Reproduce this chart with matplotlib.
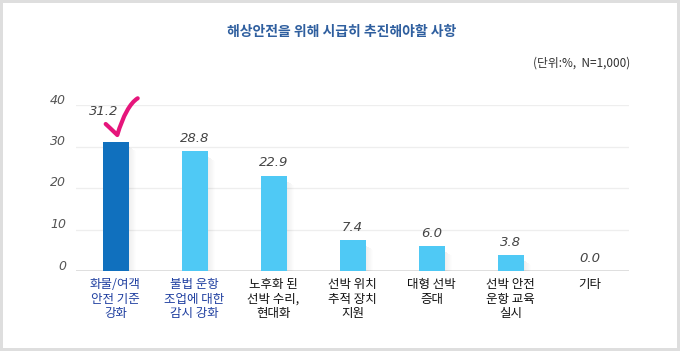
import matplotlib
matplotlib.use("Agg")
import matplotlib.pyplot as plt
from matplotlib.patches import Rectangle, PathPatch
from matplotlib.path import Path
from matplotlib.transforms import offset_copy, blended_transform_factory
import numpy as np

plt.rcParams['font.family'] = ['Noto Sans CJK KR', 'DejaVu Sans']

categories = ["화물/여객\n안전 기준\n강화", "불법 운항\n조업에 대한\n감시 강화", "노후화 된\n선박 수리,\n현대화",
              "선박 위치\n추적 장치\n지원", "대형 선박\n증대", "선박 안전\n운항 교육\n실시", "기타"]
values = [31.2, 28.8, 22.9, 7.4, 6.0, 3.8, 0.0]
value_labels = ["31.2", "28.8", "22.9", "7.4", "6.0", "3.8", "0.0"]
yticks = [0, 10, 20, 30, 40]
title = "해상안전을 위해 시급히 추진해야할 사항"
unit = "(단위:%,  N=1,000)"

W, H = 680, 351
fig = plt.figure(figsize=(W / 100, H / 100), dpi=100)
fig.patch.set_facecolor("#dedede")
# white inner panel
fig.patches.append(Rectangle((3 / W, 3 / H), (677 - 3) / W, (348 - 3) / H, transform=fig.transFigure,
                             facecolor="white", edgecolor="none", zorder=-5))

ax = fig.add_axes([76 / W, (H - 271) / H, (629 - 76) / W, (271 - 105) / H])
ax.set_zorder(2)
ax.set_facecolor("none")
ax.set_xlim(-0.5, len(values) - 0.5)
ax.set_ylim(0, 40)
for s in ax.spines.values():
    s.set_visible(False)
ax.set_xticks([])
ax.set_yticks([])
for t in yticks:
    ax.axhline(t, color="#eeeeee", lw=0.9, zorder=0)
ax.axhline(0, color="#dcdcdc", lw=2.0, zorder=0.5)

# tick labels (slightly above gridlines)
tb = blended_transform_factory(fig.transFigure, ax.transData)
tb = offset_copy(tb, fig=fig, x=0, y=5, units="dots")
for t in yticks:
    fig.text(66 / W, t, str(t), transform=tb, ha="right", va="center", fontsize=9,
             style="italic", color="#555555", family="DejaVu Sans")

x = np.arange(len(values))
bw = 26 / 79.0
colors = ["#1070be"] + ["#4fc9f5"] * (len(values) - 1)

# soft shadows to the right of bars
for xi, v in zip(x, values):
    if v <= 0:
        continue
    n = 8
    for k in range(n):
        ax.add_patch(Rectangle((xi + bw / 2 + k * 0.012, 0), 0.012, max(v - 1.2 - k * 0.15, 0),
                               facecolor="#000000", alpha=0.07 * (1 - k / n), edgecolor="none", zorder=1))

ax.bar(x, values, width=bw, color=colors, zorder=2, edgecolor="none")

# value labels
for xi, v, lab in zip(x, values, value_labels):
    off = (-12, 30) if xi == 0 else (0, 13)
    ax.annotate(lab, (xi, v), xytext=off, textcoords="offset pixels", ha="center", va="center",
                fontsize=9.5, style="italic", color="#444444", family="DejaVu Sans", zorder=3)

# category labels
for xi, lab in zip(x, categories):
    col = "#1f3fa0" if xi < 2 else "#111111"
    ax.annotate(lab, (xi, 0), xytext=(0, -7), textcoords="offset pixels", ha="center", va="top",
                fontsize=9, color=col, linespacing=1.15, fontweight="medium", annotation_clip=False)

# titles
fig.text(342 / W, 1 - 32 / H, title, ha="center", va="center", fontsize=10, color="#2f5f9f", fontweight="bold")
fig.text(630 / W, 1 - 63 / H, unit, ha="right", va="center", fontsize=8.5, color="#333333")

# check mark (decoration)
verts = [(px / W, 1 - py / H) for px, py in [(105.7, 124), (110, 128), (117.3, 135), (123, 116), (130, 103), (137.7, 98.3)]]
codes = [Path.MOVETO, Path.LINETO, Path.LINETO, Path.CURVE4, Path.CURVE4, Path.CURVE4]
fig.patches.append(PathPatch(Path(verts, codes), transform=fig.transFigure, facecolor="none",
                             edgecolor="#e6157b", lw=3, capstyle="round", joinstyle="round", zorder=5))

fig.savefig("out.png", dpi=100, facecolor=fig.get_facecolor())
